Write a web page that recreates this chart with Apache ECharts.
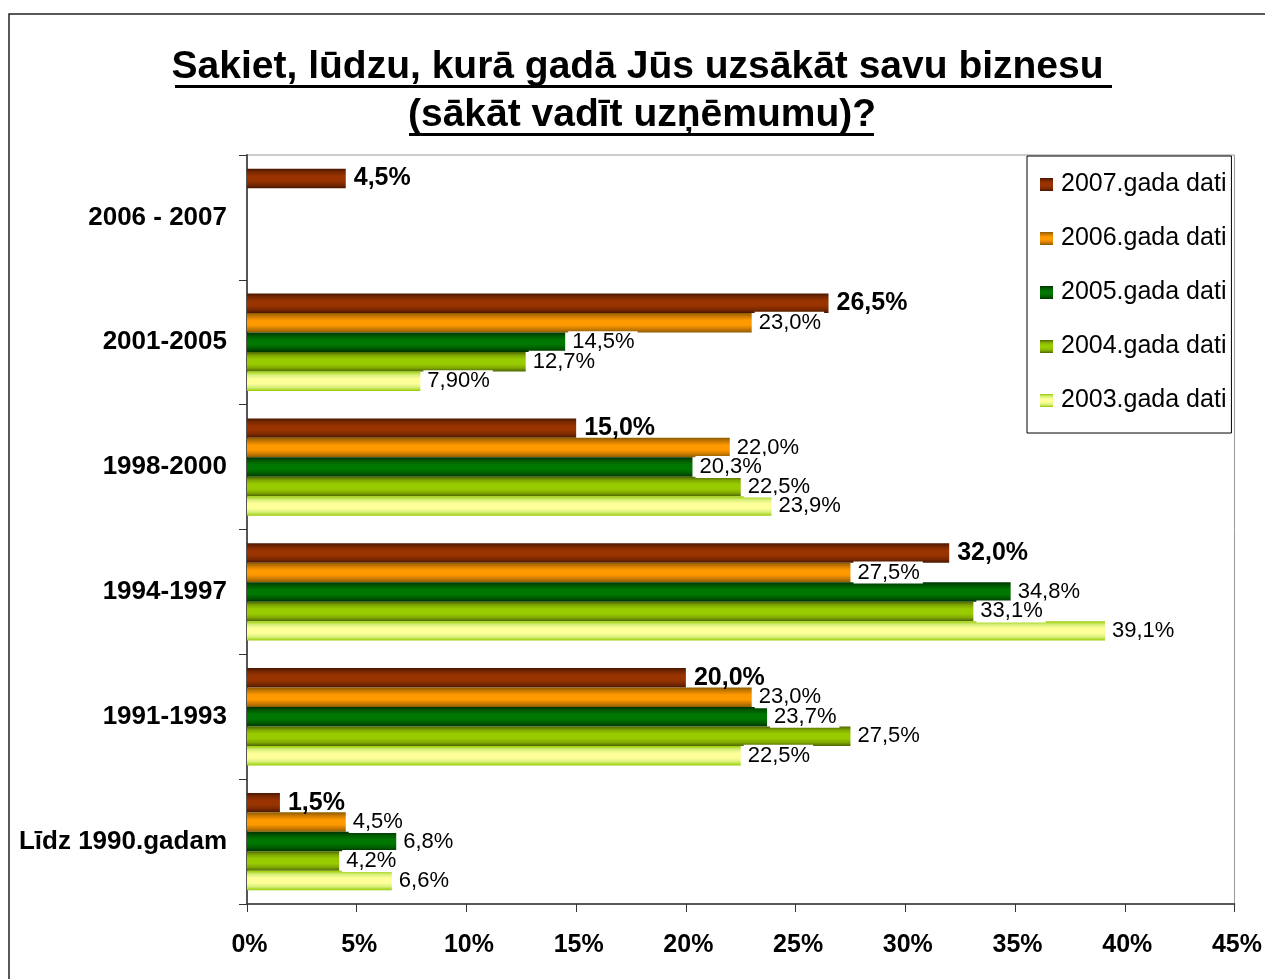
<!DOCTYPE html>
<html>
<head>
<meta charset="utf-8">
<script src="https://cdn.jsdelivr.net/npm/echarts@6/dist/echarts.min.js"></script>
<style>
  html, body { margin: 0; padding: 0; background: #fff; }
  #chart { width: 1265px; height: 979px; }
</style>
</head>
<body>
<div id="chart"></div>
<script>
// kategorijas (no augšas uz leju)
var categories = ["2006 - 2007", "2001-2005", "1998-2000", "1994-1997", "1991-1993", "Līdz 1990.gadam"];
var seriesNames = ["2007.gada dati", "2006.gada dati", "2005.gada dati", "2004.gada dati", "2003.gada dati"];

var data2007 = [4.5, 26.5, 15.0, 32.0, 20.0, 1.5];
var data2006 = [null, 23.0, 22.0, 27.5, 23.0, 4.5];
var data2005 = [null, 14.5, 20.3, 34.8, 23.7, 6.8];
var data2004 = [null, 12.7, 22.5, 33.1, 27.5, 4.2];
var data2003 = [null, 7.9, 23.9, 39.1, 22.5, 6.6];

// "7,90%" ir rakstīts ar divām zīmēm aiz komata
var labels2003 = ["", "7,90%", "23,9%", "39,1%", "22,5%", "6,6%"];

var FONT = "'Liberation Sans', Arial, Helvetica, sans-serif";

function stripes(edge, mid, center) {
  return new echarts.graphic.LinearGradient(0, 0, 0, 1, [
    { offset: 0, color: edge },
    { offset: 0.18, color: mid },
    { offset: 0.38, color: center },
    { offset: 0.62, color: center },
    { offset: 0.82, color: mid },
    { offset: 1, color: edge }
  ]);
}

var colors = [
  stripes("#4a1600", "#7a2900", "#993300"),
  stripes("#8c5c00", "#cc7a00", "#ff9900"),
  stripes("#003300", "#005a00", "#007700"),
  stripes("#4d6600", "#80a800", "#99cc00"),
  stripes("#99cc00", "#d6ef7a", "#ffff99")
];

function fmt(v) {
  return v.toFixed(1).replace(".", ",") + "%";
}

function makeSeries(name, values, idx, custom) {
  var bold = idx === 0;
  return {
    name: name,
    type: "bar",
    data: values,
    barGap: "0%",
    barCategoryGap: "22%",
    itemStyle: { color: colors[idx] },
    label: {
      show: true,
      position: "right",
      distance: bold ? 8 : 3,
      fontFamily: FONT,
      fontSize: bold ? 25 : 22,
      fontWeight: bold ? "bold" : "normal",
      color: "#000",
      backgroundColor: bold ? "transparent" : "#fff",
      padding: bold ? 0 : [0, 3, 0, 4],
      formatter: function (p) {
        if (p.value == null) return "";
        if (custom) return custom[p.dataIndex];
        return fmt(p.value);
      }
    }
  };
}

var chart = echarts.init(document.getElementById("chart"));
var option = {
  animation: false,
  backgroundColor: "#fff",
  textStyle: { fontFamily: FONT },
  graphic: [
    {
      type: "rect",
      shape: { x: 9, y: 14, width: 1300, height: 1000 },
      style: { fill: "none", stroke: "#222", lineWidth: 1.5 },
      z: -10
    },
    {
      type: "text",
      x: 643, y: 67,
      style: {
        text: "Sakiet, lūdzu, kurā gadā Jūs uzsākāt savu biznesu ",
        font: "bold 39px " + FONT,
        fill: "#000",
        align: "center",
        verticalAlign: "middle"
      }
    },
    {
      type: "text",
      x: 642, y: 115,
      style: {
        text: "(sākāt vadīt uzņēmumu)?",
        font: "bold 39px " + FONT,
        fill: "#000",
        align: "center",
        verticalAlign: "middle"
      }
    },
    {
      type: "line",
      shape: { x1: 175, y1: 86.5, x2: 1112, y2: 86.5 },
      style: { stroke: "#000", lineWidth: 3 }
    },
    {
      type: "line",
      shape: { x1: 409, y1: 134.5, x2: 874, y2: 134.5 },
      style: { stroke: "#000", lineWidth: 3 }
    }
  ],
  legend: {
    data: seriesNames,
    orient: "vertical",
    left: 1027,
    top: 156,
    itemWidth: 13,
    itemHeight: 13,
    itemGap: 29,
    padding: [16, 5, 20, 13],
    backgroundColor: "#fff",
    borderColor: "#000",
    borderWidth: 1,
    icon: "rect",
    textStyle: { fontFamily: FONT, fontSize: 25, color: "#000", padding: [0, 0, 0, 3] }
  },
  grid: {
    left: 247,
    right: 30,
    top: 155,
    bottom: 75,
    show: true,
    borderColor: "#999",
    borderWidth: 1,
    containLabel: false
  },
  xAxis: {
    type: "value",
    min: 0,
    max: 45,
    interval: 5,
    splitLine: { show: false },
    axisLine: { show: true, lineStyle: { color: "#333", width: 1.5 } },
    axisTick: { show: true, length: 8, lineStyle: { color: "#333" } },
    axisLabel: {
      formatter: "{value}%",
      fontFamily: FONT,
      fontSize: 25,
      fontWeight: "bold",
      color: "#000",
      margin: 29,
      padding: [0, 0, 0, 5]
    }
  },
  yAxis: {
    type: "category",
    data: categories,
    inverse: true,
    axisLine: { show: true, lineStyle: { color: "#555", width: 2 } },
    axisTick: { show: true, length: 8, lineStyle: { color: "#333" } },
    axisLabel: {
      fontFamily: FONT,
      fontSize: 26,
      fontWeight: "bold",
      color: "#000",
      margin: 20
    }
  },
  series: [
    makeSeries(seriesNames[0], data2007, 0),
    makeSeries(seriesNames[1], data2006, 1),
    makeSeries(seriesNames[2], data2005, 2),
    makeSeries(seriesNames[3], data2004, 3),
    makeSeries(seriesNames[4], data2003, 4, labels2003)
  ]
};
chart.setOption(option);
</script>
</body>
</html>
